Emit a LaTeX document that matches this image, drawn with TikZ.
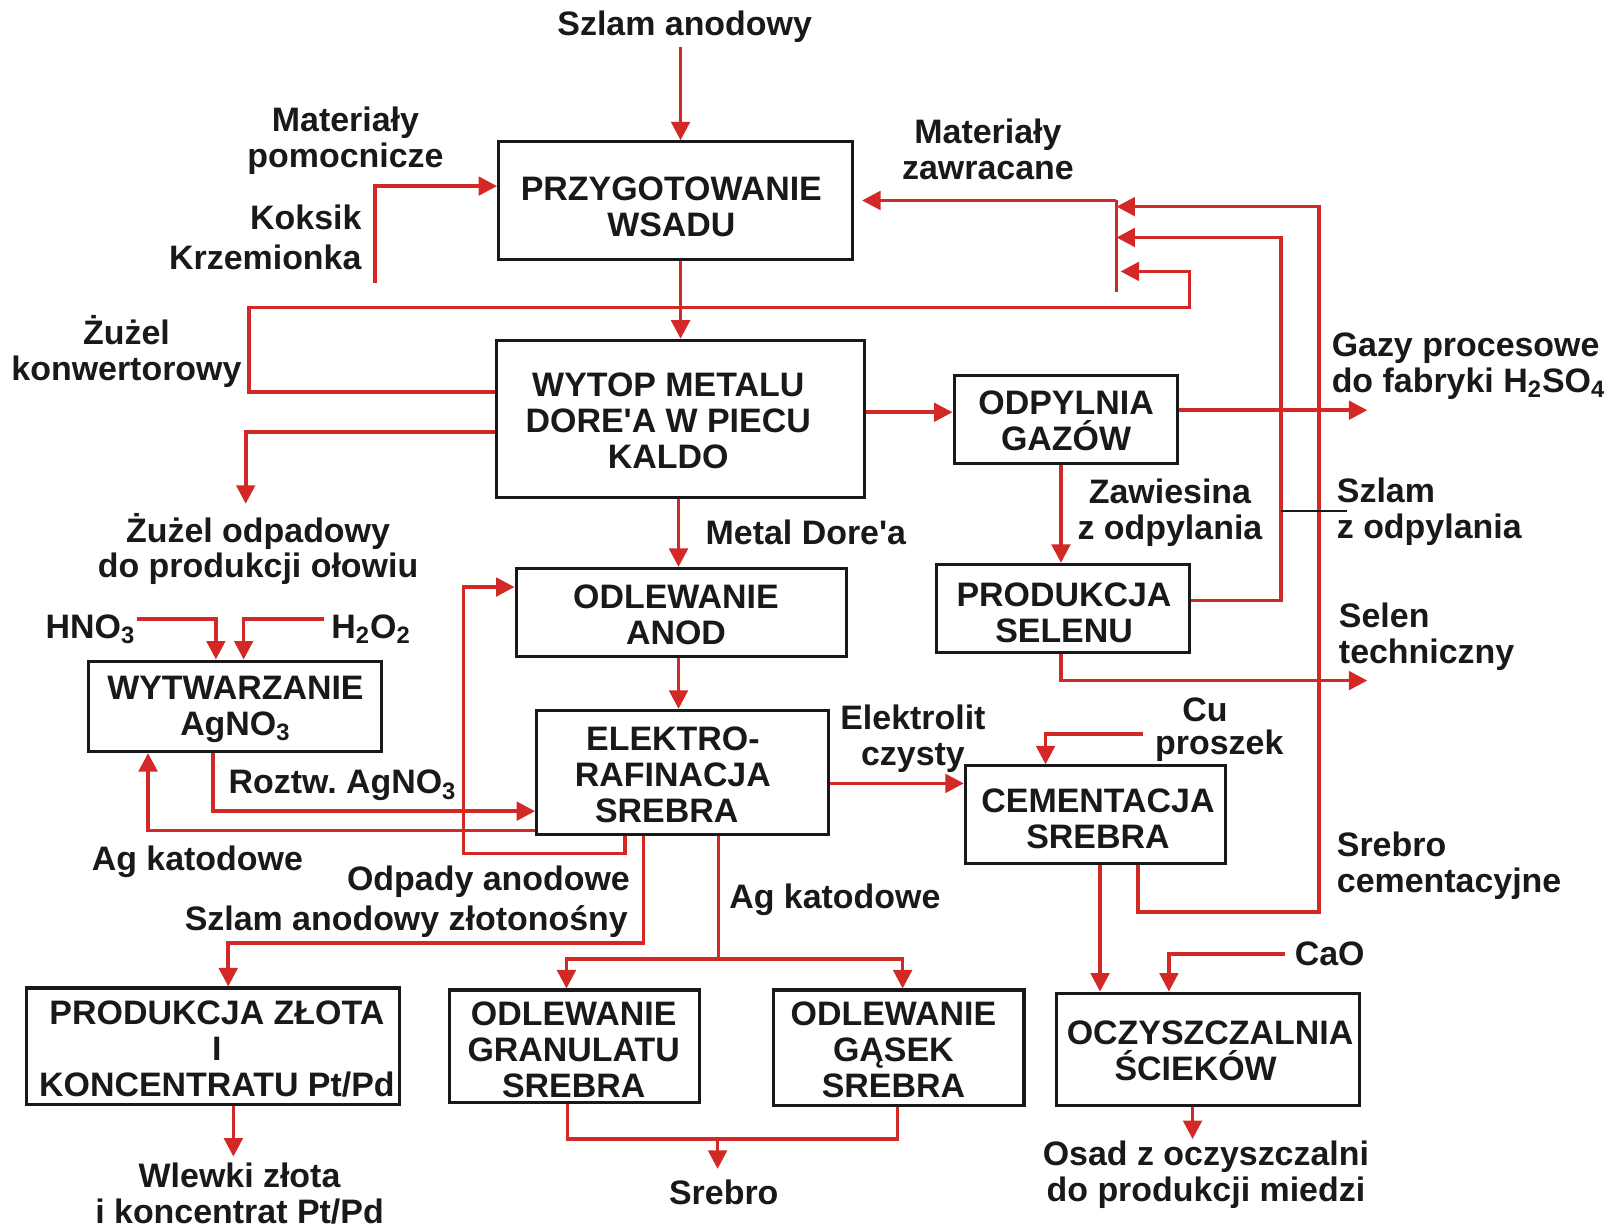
\documentclass[tikz,border=0pt]{standalone}
\usepackage{fontspec}
\setmainfont{Liberation Sans}
\usetikzlibrary{arrows.meta,calc}
\definecolor{flow}{RGB}{210,40,38}
\definecolor{ink}{RGB}{25,25,25}
\newcommand\lab{\fontsize{16.5}{17.5}\selectfont\bfseries}
\newcommand\pad[1]{\rule{#1}{0pt}}
\begin{document}
\begin{tikzpicture}[x=0.5pt,y=-0.5pt,
  every node/.style={font=\lab, text=ink, inner sep=0pt},
  box/.style={draw=ink, line width=1.5pt, inner sep=0pt},
  btxt/.style={align=center},
  flowline/.style={draw=flow, line width=1.75pt, line join=miter},
  arr/.style={flowline, -{Triangle[length=9pt,width=9pt]}},
  lbl/.style={align=center},
  lbll/.style={align=left, anchor=west},
  leader/.style={draw=ink, line width=1pt}]
\fill[white] (0,0) rectangle (1568,1195);
\useasboundingbox (0,0) rectangle (1568,1195);

% boxes
\node[box, minimum width=172pt, minimum height=57pt] (prz) at (657,195) {};
\node[box, minimum width=179pt, minimum height=76.5pt] (wyt) at (662,407.5) {};
\node[box, minimum width=108.5pt, minimum height=43pt] (odp) at (1036.5,408) {};
\node[box, minimum width=160.5pt, minimum height=43pt] (oda) at (662.5,596) {};
\node[box, minimum width=123pt, minimum height=43pt] (sel) at (1034,592) {};
\node[box, minimum width=142.5pt, minimum height=44pt] (wyw) at (228.5,687) {};
\node[box, minimum width=142pt, minimum height=60.5pt] (ele) at (664,751.5) {};
\node[box, minimum width=126.5pt, minimum height=47.5pt] (cem) at (1065.5,792.5) {};
\node[box, minimum width=181.5pt, minimum height=56.5pt] (zlo) at (207.5,1017.5) {};
\node[box, minimum width=121.5pt, minimum height=54.5pt] (gra) at (558.5,1017.5) {};
\node[box, minimum width=122pt, minimum height=56pt] (gas) at (874,1019) {};
\node[box, minimum width=147pt, minimum height=54.5pt] (ocz) at (1175,1020.5) {};

% box texts
\node[btxt] (tprz) at (653,201) {PRZYGOTOWANIE\\WSADU};
\node[btxt] (twyt) at (650,409) {WYTOP METALU\\DORE\textquotesingle A W PIECU\\KALDO};
\node[btxt] (todp) at (1037,409.5) {ODPYLNIA\\GAZÓW};
\node[btxt] (toda) at (657.5,598) {ODLEWANIE\\ANOD};
\node[btxt] (tsel) at (1035,596.5) {PRODUKCJA\\SELENU};
\node[btxt] (twyw) at (229,690) {WYTWARZANIE\\AgNO\textsubscript{3}};
\node[btxt] (tele) at (654.5,754) {ELEKTRO-\\RAFINACJA\\SREBRA\pad{6pt}};
\node[btxt] (tcem) at (1068,796) {CEMENTACJA\\SREBRA};
\node[btxt] (tzlo) at (211,1020) {PRODUKCJA ZŁOTA\\I\\KONCENTRATU Pt/Pd};
\node[btxt] (tgra) at (558,1021) {ODLEWANIE\\GRANULATU\\SREBRA};
\node[btxt] (tgas) at (869,1021) {ODLEWANIE\\GĄSEK\\SREBRA};
\node[btxt] (tocz) at (1177,1022.5) {OCZYSZCZALNIA\\ŚCIEKÓW\pad{14pt}};

% labels
\node (szlam) at (666,26) {Szlam anodowy};
\node[lbl] (matpom) at (336,137) {Materiały\\pomocnicze};
\node[anchor=east] (koks) at (352,211) {Koksik};
\node[anchor=east] (krz) at (352,250) {Krzemionka};
\node[lbl] (matzaw) at (961,145) {Materiały\\zawracane};
\node[lbl] (zuzk) at (123,342) {Żużel\\konwertorowy};
\node[lbll] (gazy) at (1295,356) {Gazy procesowe\\do fabryki H\textsubscript{2}SO\textsubscript{4}};
\node[lbl] (zuzo) at (251,534) {Żużel odpadowy\\do produkcji ołowiu};
\node[anchor=west] (metal) at (686,518) {Metal Dore\textquotesingle a};
\node[lbl] (zaw) at (1138,499) {Zawiesina\\z odpylania};
\node[lbll] (szodp) at (1300,498) {Szlam\\z odpylania};
\node[lbll] (selen) at (1302,619) {Selen\\techniczny};
\node[anchor=west] (hno) at (44,612) {HNO\textsubscript{3}};
\node[anchor=west] (hoo) at (322,612) {H\textsubscript{2}O\textsubscript{2}};
\node[anchor=west] (roz) at (222,764) {Roztw.\ AgNO\textsubscript{3}};
\node[lbl] (elek) at (888,719) {Elektrolit\\czysty};
\node (cu) at (1172,690) {Cu};
\node (prosz) at (1186,725) {proszek};
\node (agk1) at (192,838) {Ag katodowe};
\node[anchor=east] (odpad) at (613,858) {Odpady anodowe};
\node[anchor=east] (szlz) at (611,896) {Szlam anodowy złotonośny};
\node[anchor=west] (agk2) at (709,875) {Ag katodowe};
\node[lbll] (srcem) at (1300,842) {Srebro\\cementacyjne};
\node[anchor=west] (cao) at (1259,928) {CaO};
\node[lbl] (wlewki) at (233,1161) {Wlewki złota\\i koncentrat Pt/Pd};
\node (srebro) at (704,1160) {Srebro};
\node[lbl] (osad) at (1173,1143) {Osad z oczyszczalni\\do produkcji miedzi};

% free ends / junctions
\coordinate (bartop) at (1086,195);
\coordinate (barbot) at (1086,284);
\coordinate (kk) at (365,275);
\coordinate (gz) at (1330,399);
\coordinate (st) at (1330,662);
\coordinate (zo) at (239,490);
\coordinate (h1) at (133,602);
\coordinate (h2) at (315,602);
\coordinate (cu1) at (1112,714);
\coordinate (ca1) at (1250,928);
\coordinate (agj) at (699,933);
\coordinate (osj) at (1160,1108);
\coordinate (wlj) at (227,1125);
\coordinate (srj) at (698,1108);
\coordinate (srk) at (698,1137);
\coordinate (blk) at (1246,497);

% connectors
\draw[arr, shorten <=2pt] (szlam.south -| 662,0) -- (prz.north -| 662,0);
\draw[arr] (kk) |- (prz.west |- 0,181);
\draw[arr] (prz.south -| 662,0) -- (wyt.north -| 662,0);
\draw[arr] (wyt.west |- 0,381) -- (242,381) -- (242,299) -- (1157,299) -- (1157,264) -- ($(barbot |- 0,264)+(4,0)$);
\draw[flowline] (barbot) -- (bartop);
\draw[arr, shorten >=4pt] (bartop) -- (prz.east |- bartop);
\draw[arr] (cem.south -| 1107,0) -- (1107,887) -- (1283,887) -- (1283,201) -- (bartop |- 0,201);
\draw[arr] (sel.east |- 0,584) -- (1246,584) -- (1246,231) -- (bartop |- 0,231);
\draw[leader] (blk) -- ($(szodp.west)+(10,-1)$);
\draw[arr] (wyt.east |- 0,401) -- (odp.west |- 0,401);
\draw[arr] (odp.east |- 0,399) -- (gz);
\draw[arr] (odp.south -| 1032,0) -- (sel.north -| 1032,0);
\draw[arr] (sel.south -| 1032,0) |- (st);
\draw[arr] (wyt.west |- 0,420) -| (zo);
\draw[arr] (wyt.south -| 660,0) -- (oda.north -| 660,0);
\draw[arr] (oda.south -| 660,0) -- (ele.north -| 660,0);
\draw[arr] (h1) -| (wyw.north -| 210,0);
\draw[arr] (h2) -| (wyw.north -| 237,0);
\draw[arr] (wyw.south -| 207,0) |- (ele.west |- 0,789);
\draw[arr] (ele.west |- 0,808) -| (wyw.south -| 144,0);
\draw[arr] (ele.south -| 608,0) -- (608,830) -- (451,830) -- (451,571) -- (oda.west |- 0,571);
\draw[arr] (ele.south -| 626,0) -- (626,917) -- (222,917) -- (zlo.north -| 222,0);
\draw[flowline] (ele.south -| 699,0) -- (agj);
\draw[arr] (agj) -| (gra.north -| 551,0);
\draw[arr] (agj) -| (gas.north -| 878,0);
\draw[arr] (ele.east |- 0,762) -- (cem.west |- 0,762);
\draw[arr] (cu1) -| (cem.north -| 1017,0);
\draw[arr] (cem.south -| 1070,0) -- (ocz.north -| 1070,0);
\draw[arr] (ca1) -| (ocz.north -| 1137,0);
\draw[arr] (ocz.south -| 1160,0) -- (osj);
\draw[arr] (zlo.south -| 227,0) -- (wlj);
\draw[flowline] (gra.south -| 552,0) |- (srj) -| (gas.south -| 873,0);
\draw[arr] (srj) -- (srk);
\end{tikzpicture}
\end{document}
